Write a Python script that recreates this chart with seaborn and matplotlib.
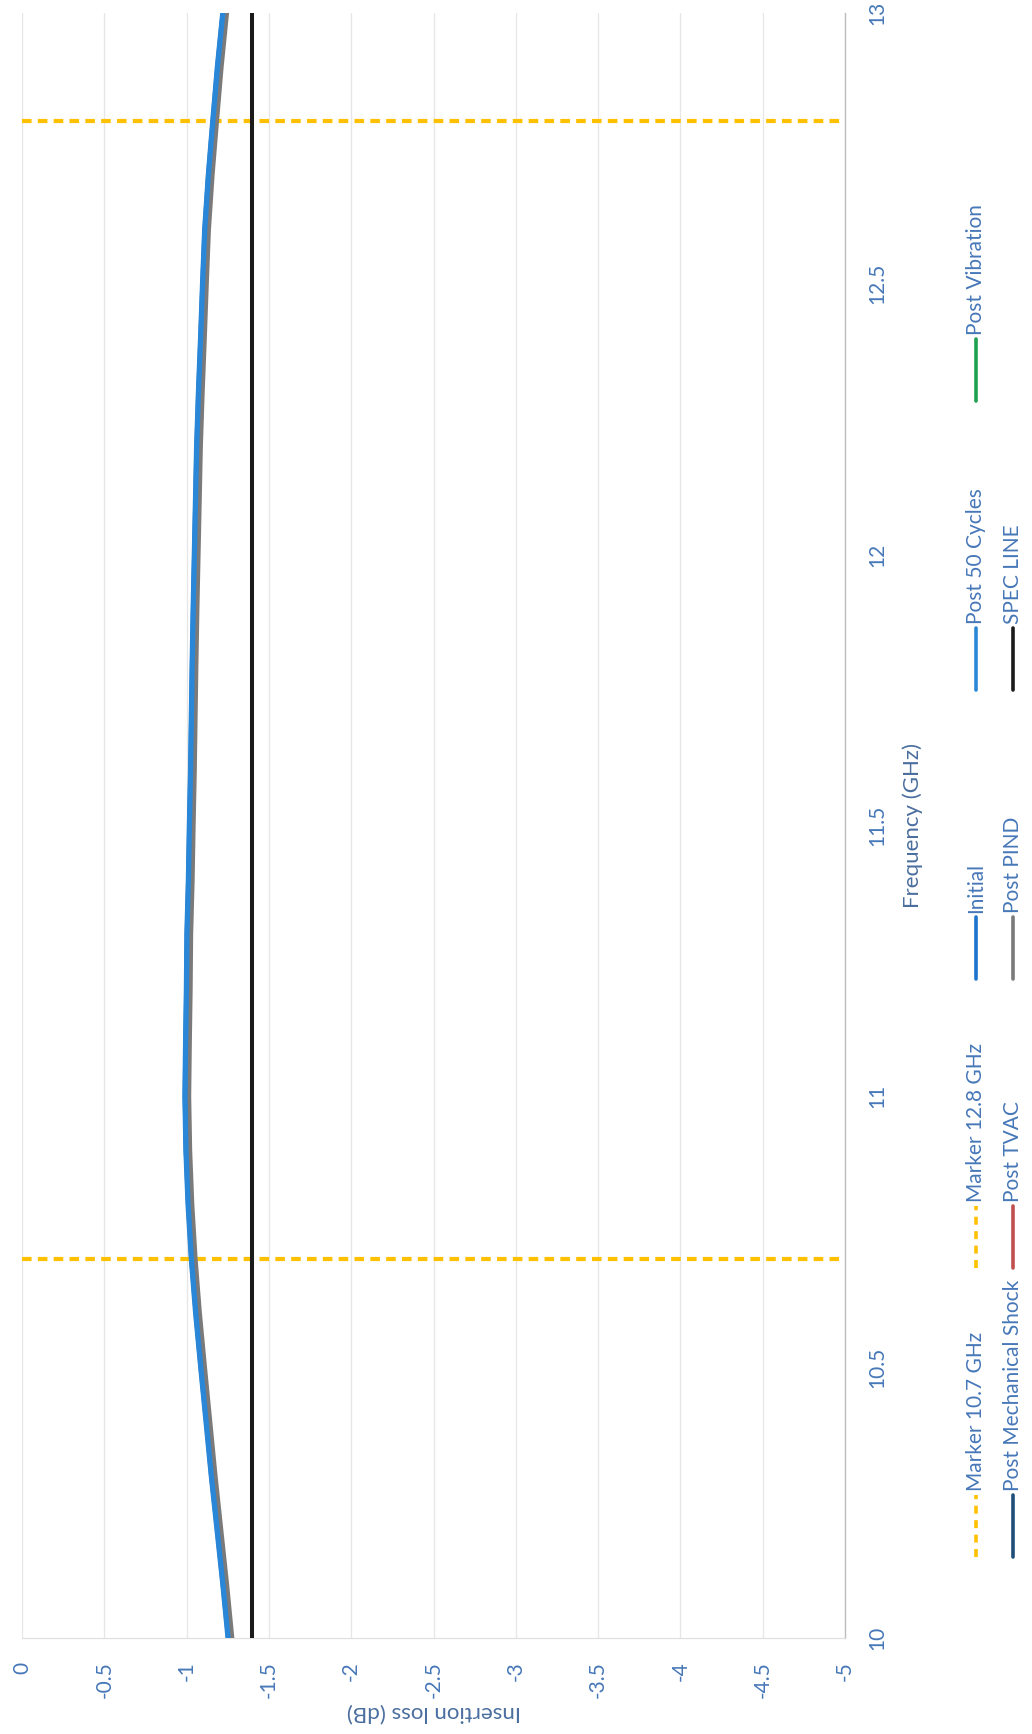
import matplotlib
matplotlib.use("Agg")
import matplotlib.pyplot as plt
from matplotlib.lines import Line2D
import pandas as pd
import seaborn as sns

sns.set_theme(style="white")
plt.rcParams['font.family'] = ['Lato', 'DejaVu Sans']

# ---- data -------------------------------------------------------------
freq_ghz = [10.0, 10.1, 10.2, 10.3, 10.4, 10.5, 10.6, 10.7, 10.8, 10.9,
            11.0, 11.1, 11.2, 11.3, 11.4, 11.5, 11.6, 11.7, 11.8, 11.9,
            12.0, 12.1, 12.2, 12.3, 12.4, 12.5, 12.6, 12.7, 12.8, 12.9, 13.0]

initial = [-1.255, -1.222, -1.188, -1.152, -1.121, -1.088, -1.058, -1.031, -1.012, -0.998,
           -0.992, -0.996, -1.001, -1.004, -1.013, -1.019, -1.026, -1.031, -1.036, -1.042,
           -1.049, -1.056, -1.063, -1.074, -1.087, -1.099, -1.112, -1.134, -1.161, -1.189, -1.222]
post_50_cycles = [-1.252, -1.220, -1.185, -1.150, -1.118, -1.086, -1.055, -1.029, -1.009, -0.996,
                  -0.990, -0.994, -0.999, -1.002, -1.011, -1.017, -1.024, -1.029, -1.034, -1.040,
                  -1.047, -1.054, -1.061, -1.072, -1.085, -1.097, -1.110, -1.132, -1.159, -1.187, -1.220]
post_vibration = [-1.258, -1.225, -1.190, -1.155, -1.124, -1.091, -1.060, -1.034, -1.014, -1.001,
                  -0.995, -0.998, -1.004, -1.007, -1.016, -1.022, -1.029, -1.034, -1.039, -1.045,
                  -1.052, -1.059, -1.066, -1.077, -1.090, -1.102, -1.115, -1.137, -1.164, -1.192, -1.225]
post_mech_shock = [-1.260, -1.227, -1.193, -1.157, -1.126, -1.093, -1.063, -1.036, -1.017, -1.003,
                   -0.997, -1.001, -1.006, -1.009, -1.018, -1.024, -1.031, -1.036, -1.041, -1.047,
                   -1.054, -1.061, -1.068, -1.079, -1.092, -1.104, -1.117, -1.139, -1.166, -1.194, -1.227]
post_tvac = [-1.262, -1.229, -1.195, -1.159, -1.128, -1.095, -1.065, -1.038, -1.019, -1.005,
             -0.999, -1.003, -1.008, -1.011, -1.020, -1.026, -1.033, -1.038, -1.043, -1.049,
             -1.056, -1.063, -1.070, -1.081, -1.094, -1.106, -1.119, -1.141, -1.168, -1.196, -1.229]
post_pind = [-1.274, -1.242, -1.207, -1.172, -1.140, -1.108, -1.077, -1.051, -1.031, -1.018,
             -1.012, -1.016, -1.021, -1.024, -1.033, -1.039, -1.046, -1.051, -1.056, -1.062,
             -1.069, -1.076, -1.083, -1.094, -1.107, -1.119, -1.132, -1.154, -1.181, -1.209, -1.242]

trace_names = ["Initial", "Post 50 Cycles", "Post Vibration",
               "Post Mechanical Shock", "Post TVAC", "Post PIND"]
trace_values = [initial, post_50_cycles, post_vibration,
                post_mech_shock, post_tvac, post_pind]
trace_colors = ["#1E74CC", "#2A86D6", "#1FA050", "#1F4E79", "#C0504D", "#7A7A7A"]
trace_zorder = [4, 9, 5, 6, 7, 8]

marker_names = ["Marker 10.7 GHz", "Marker 12.8 GHz"]
marker_freqs = [10.7, 12.8]
marker_color = "#FFC000"

spec_name = "SPEC LINE"
spec_limit_db = -1.4

loss_ticks = [0, -0.5, -1, -1.5, -2, -2.5, -3, -3.5, -4, -4.5, -5]
loss_tick_labels = ["0", "-0.5", "-1", "-1.5", "-2", "-2.5", "-3", "-3.5", "-4", "-4.5", "-5"]
freq_ticks = [10, 10.5, 11, 11.5, 12, 12.5, 13]
freq_tick_labels = ["10", "10.5", "11", "11.5", "12", "12.5", "13"]

text_blue = "#4677B8"
title_blue = "#4A6E9E"

# ---- figure (page is printed rotated: frequency runs bottom-to-top) ----
W_PX, H_PX = 1032, 1734
fig = plt.figure(figsize=(W_PX / 100, H_PX / 100), dpi=100)
fig.patch.set_facecolor("white")

ax_left, ax_right, ax_top, ax_bottom = 22, 845, 13, 1638
ax = fig.add_axes([ax_left / W_PX, 1 - ax_bottom / H_PX,
                   (ax_right - ax_left) / W_PX, (ax_bottom - ax_top) / H_PX])

long = pd.DataFrame({
    "freq": freq_ghz * len(trace_names),
    "loss": sum(trace_values, []),
    "series": sum([[n] * len(freq_ghz) for n in trace_names], []),
})

for name, color, z in zip(trace_names, trace_colors, trace_zorder):
    sub = long[long["series"] == name]
    sns.lineplot(data=sub, x="loss", y="freq", orient="y", estimator=None,
                 sort=True, color=color, lw=3.8, ax=ax, zorder=z, legend=False)

for f in marker_freqs:
    ax.axhline(f, color=marker_color, lw=3.0, ls=(0, (2.3, 1.5)), zorder=2)

ax.axvline(spec_limit_db, color="#1A1A1A", lw=2.9, zorder=10)

ax.set_xlim(0, -5)
ax.set_ylim(10, 13)
ax.set_xticks(loss_ticks)
ax.set_xticklabels(loss_tick_labels, rotation=90, color=text_blue, fontsize=15)
ax.yaxis.tick_right()
ax.set_yticks(freq_ticks)
ax.set_yticklabels(freq_tick_labels, rotation=90, va="center", color=text_blue, fontsize=15)
ax.tick_params(axis="x", length=0, pad=17)
ax.tick_params(axis="y", length=0, pad=16)

ax.grid(axis="x", color="#E6E6E6", lw=0.9)
ax.grid(axis="y", visible=False)
for side in ("top", "left"):
    ax.spines[side].set_visible(False)
ax.spines["right"].set_color("#BDBDBD")
ax.spines["right"].set_linewidth(1.0)
ax.spines["bottom"].set_color("#E0E0E0")
ax.spines["bottom"].set_linewidth(0.9)

ax.set_xlabel("Insertion loss (dB)", rotation=180, color=title_blue, fontsize=16, va="center")
ax.xaxis.set_label_coords(0.5, (ax_bottom - 1712) / (ax_bottom - ax_top))
ax.yaxis.set_label_position("right")
ax.set_ylabel("Frequency (GHz)", rotation=90, color=title_blue, fontsize=16, va="center")
ax.yaxis.set_label_coords((913 - ax_left) / (ax_right - ax_left), 0.5)

# ---- legend: two rows of entries, read along the rotated page ----------
legend_entries = [
    (marker_names[0], marker_color, "dash"),
    (marker_names[1], marker_color, "dash"),
] + [(n, c, "solid") for n, c in zip(trace_names, trace_colors)] + [
    (spec_name, "#1A1A1A", "solid"),
]
row_x = [976, 1013]
slot_start_y = 1557
slot_step = 289
handle_len = 62
per_row = 5

for i, (name, color, style) in enumerate(legend_entries):
    row, slot = divmod(i, per_row)
    x = row_x[row] / W_PX
    y0 = slot_start_y - slot * slot_step
    y1 = y0 - handle_len
    ls = (0, (2.2, 1.8)) if style == "dash" else "-"
    fig.add_artist(Line2D([x, x], [1 - y0 / H_PX, 1 - y1 / H_PX],
                          transform=fig.transFigure, color=color, lw=2.6, ls=ls))
    fig.text(x, 1 - (y1 - 4) / H_PX, name, rotation=90, ha="center", va="bottom",
             color=text_blue, fontsize=15)

fig.savefig("out.png", dpi=100, facecolor="white")
